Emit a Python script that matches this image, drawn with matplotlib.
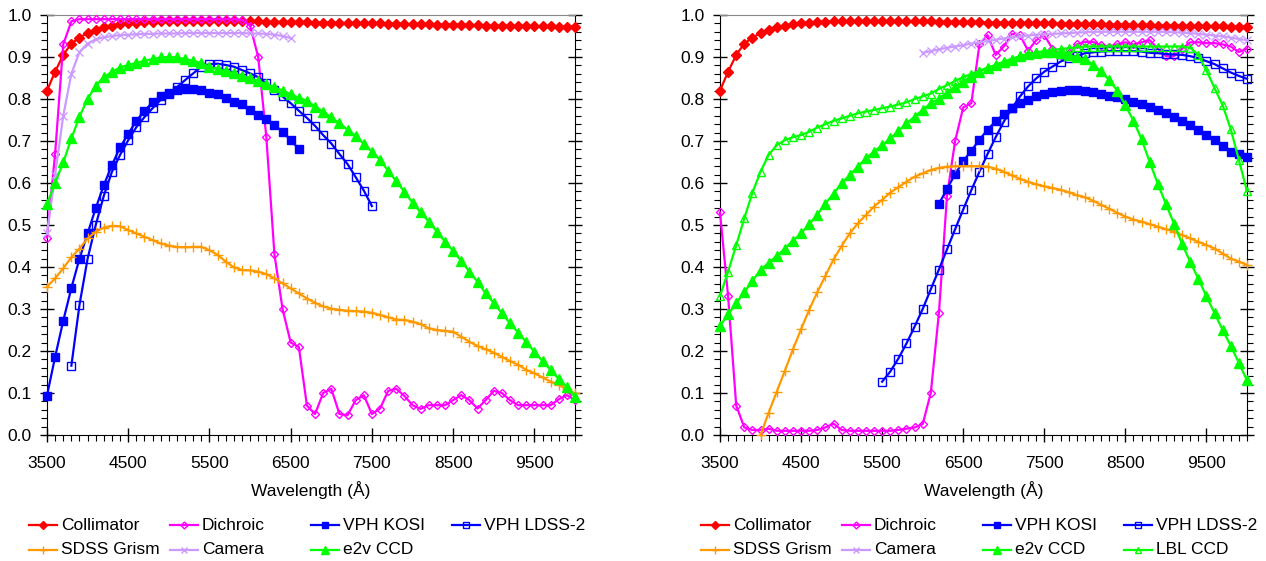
import numpy as np
import matplotlib
matplotlib.use("Agg")
import matplotlib.pyplot as plt
from matplotlib.lines import Line2D
from matplotlib.ticker import MultipleLocator

plt.rcParams['font.family'] = ['Liberation Sans', 'DejaVu Sans']

# every curve is sampled each 100 A, starting at the wavelength given
step = 100

# ---- shared ----
collimator_start = 3500
collimator = [0.820, 0.865, 0.905, 0.932, 0.946, 0.957, 0.965, 0.971, 0.975, 0.978,
              0.980, 0.982, 0.983, 0.984, 0.985, 0.985, 0.985, 0.986, 0.986, 0.986,
              0.986, 0.986, 0.986, 0.985, 0.985, 0.985, 0.985, 0.984, 0.984, 0.984,
              0.983, 0.983, 0.983, 0.982, 0.982, 0.982, 0.981, 0.981, 0.981, 0.980,
              0.980, 0.980, 0.979, 0.979, 0.979, 0.978, 0.978, 0.978, 0.977, 0.977,
              0.977, 0.976, 0.976, 0.976, 0.975, 0.975, 0.975, 0.974, 0.974, 0.974,
              0.973, 0.973, 0.973, 0.972, 0.972, 0.972]

# ---- left panel ----
dichroic_l_start = 3500
dichroic_l = [0.47, 0.67, 0.93, 0.985, 0.99, 0.99, 0.99, 0.99, 0.99, 0.99,
              0.99, 0.99, 0.99, 0.99, 0.99, 0.99, 0.99, 0.99, 0.99, 0.99,
              0.99, 0.99, 0.99, 0.99, 0.988, 0.975, 0.90, 0.71, 0.43, 0.30,
              0.22, 0.21, 0.07, 0.05, 0.10, 0.11, 0.05, 0.047, 0.083, 0.095,
              0.05, 0.063, 0.105, 0.11, 0.093, 0.071, 0.062, 0.071, 0.071, 0.071,
              0.083, 0.095, 0.083, 0.063, 0.083, 0.105, 0.10, 0.083, 0.071, 0.071,
              0.071, 0.071, 0.071, 0.085, 0.095, 0.083]

camera_l_start = 3500
camera_l = [0.48, 0.62, 0.76, 0.86, 0.912, 0.932, 0.942, 0.947, 0.95, 0.952,
            0.953, 0.954, 0.955, 0.955, 0.956, 0.956, 0.956, 0.957, 0.957, 0.957,
            0.957, 0.957, 0.957, 0.957, 0.957, 0.956, 0.956, 0.955, 0.953, 0.95,
            0.945]

kosi_l_start = 3500
kosi_l = [0.094, 0.186, 0.272, 0.35, 0.42, 0.48, 0.54, 0.595, 0.643, 0.685,
          0.717, 0.748, 0.772, 0.792, 0.806, 0.815, 0.821, 0.824, 0.823, 0.821,
          0.815, 0.811, 0.803, 0.794, 0.788, 0.774, 0.762, 0.752, 0.738, 0.722,
          0.702, 0.681]

ldss_l_start = 3800
ldss_l = [0.165, 0.31, 0.42, 0.50, 0.57, 0.627, 0.667, 0.702, 0.733, 0.757,
          0.778, 0.798, 0.813, 0.828, 0.845, 0.861, 0.877, 0.883, 0.884, 0.881,
          0.877, 0.869, 0.861, 0.852, 0.837, 0.821, 0.806, 0.79, 0.772, 0.755,
          0.736, 0.714, 0.694, 0.669, 0.645, 0.614, 0.582, 0.545]

sdss_l_start = 3500
sdss_l = [0.353, 0.373, 0.397, 0.423, 0.444, 0.468, 0.484, 0.494, 0.498, 0.497,
          0.488, 0.48, 0.472, 0.464, 0.456, 0.451, 0.448, 0.447, 0.448, 0.448,
          0.44, 0.429, 0.413, 0.399, 0.393, 0.392, 0.389, 0.383, 0.373, 0.361,
          0.349, 0.337, 0.325, 0.315, 0.306, 0.301, 0.298, 0.296, 0.295, 0.294,
          0.291, 0.286, 0.28, 0.275, 0.274, 0.27, 0.264, 0.254, 0.25, 0.248,
          0.246, 0.234, 0.222, 0.212, 0.204, 0.196, 0.186, 0.176, 0.167, 0.155,
          0.147, 0.137, 0.127, 0.119, 0.109, 0.099]

e2v_l_start = 3500
e2v_l = [0.55, 0.60, 0.649, 0.706, 0.758, 0.80, 0.832, 0.852, 0.865, 0.875,
         0.881, 0.886, 0.891, 0.895, 0.899, 0.90, 0.899, 0.895, 0.891, 0.885,
         0.877, 0.871, 0.867, 0.861, 0.855, 0.849, 0.843, 0.835, 0.828, 0.82,
         0.811, 0.803, 0.796, 0.782, 0.77, 0.756, 0.742, 0.727, 0.712, 0.693,
         0.675, 0.655, 0.629, 0.604, 0.579, 0.553, 0.53, 0.508, 0.484, 0.46,
         0.438, 0.414, 0.389, 0.365, 0.337, 0.314, 0.29, 0.266, 0.244, 0.221,
         0.198, 0.176, 0.155, 0.133, 0.114, 0.09]

# ---- right panel ----
dichroic_r_start = 3500
dichroic_r = [0.53, 0.33, 0.07, 0.018, 0.012, 0.012, 0.015, 0.01, 0.01, 0.01,
              0.01, 0.01, 0.012, 0.018, 0.027, 0.012, 0.01, 0.01, 0.01, 0.01,
              0.01, 0.01, 0.012, 0.015, 0.018, 0.026, 0.10, 0.29, 0.57, 0.70,
              0.78, 0.79, 0.93, 0.952, 0.905, 0.925, 0.955, 0.952, 0.915, 0.94,
              0.952, 0.92, 0.905, 0.91, 0.93, 0.936, 0.936, 0.928, 0.925, 0.93,
              0.935, 0.93, 0.935, 0.94, 0.92, 0.902, 0.902, 0.92, 0.935, 0.935,
              0.933, 0.933, 0.93, 0.925, 0.912, 0.92]

sdss_r_start = 4000
sdss_r = [0.0, 0.053, 0.103, 0.153, 0.204, 0.252, 0.298, 0.34, 0.379, 0.418,
          0.45, 0.48, 0.504, 0.524, 0.544, 0.56, 0.577, 0.59, 0.603, 0.615,
          0.623, 0.631, 0.636, 0.639, 0.64, 0.64, 0.64, 0.64, 0.639, 0.634,
          0.627, 0.618, 0.61, 0.603, 0.597, 0.592, 0.588, 0.584, 0.578, 0.571,
          0.566, 0.558, 0.548, 0.539, 0.529, 0.52, 0.513, 0.508, 0.502, 0.496,
          0.49, 0.484, 0.476, 0.468, 0.46, 0.452, 0.444, 0.432, 0.42, 0.413,
          0.405]

camera_r_start = 6000
camera_r = [0.91, 0.914, 0.918, 0.922, 0.925, 0.928, 0.932, 0.935, 0.938, 0.941,
            0.944, 0.947, 0.949, 0.951, 0.953, 0.954, 0.955, 0.956, 0.957, 0.958,
            0.959, 0.96, 0.96, 0.96, 0.96, 0.96, 0.96, 0.96, 0.96, 0.96,
            0.96, 0.959, 0.958, 0.957, 0.955, 0.953, 0.951, 0.949, 0.946, 0.943,
            0.94]

kosi_r_start = 6200
kosi_r = [0.55, 0.586, 0.621, 0.652, 0.677, 0.703, 0.727, 0.747, 0.764, 0.778,
          0.79, 0.798, 0.806, 0.811, 0.816, 0.82, 0.821, 0.821, 0.82, 0.816,
          0.812, 0.808, 0.804, 0.799, 0.794, 0.788, 0.782, 0.774, 0.766, 0.758,
          0.748, 0.738, 0.726, 0.714, 0.702, 0.688, 0.675, 0.67, 0.663]

ldss_r_start = 5500
ldss_r = [0.127, 0.151, 0.182, 0.218, 0.258, 0.30, 0.347, 0.394, 0.442, 0.49,
          0.537, 0.583, 0.627, 0.669, 0.709, 0.746, 0.778, 0.806, 0.83, 0.849,
          0.865, 0.877, 0.889, 0.897, 0.902, 0.909, 0.911, 0.913, 0.914, 0.914,
          0.914, 0.914, 0.913, 0.91, 0.909, 0.907, 0.906, 0.905, 0.902, 0.897,
          0.89, 0.883, 0.873, 0.863, 0.855, 0.848]

e2v_r_start = 3500
e2v_r = [0.26, 0.287, 0.314, 0.34, 0.367, 0.393, 0.41, 0.426, 0.444, 0.463,
         0.48, 0.502, 0.525, 0.551, 0.575, 0.599, 0.619, 0.639, 0.659, 0.675,
         0.69, 0.706, 0.724, 0.742, 0.758, 0.774, 0.79, 0.801, 0.815, 0.828,
         0.841, 0.852, 0.865, 0.873, 0.881, 0.887, 0.894, 0.902, 0.907, 0.91,
         0.912, 0.912, 0.91, 0.905, 0.899, 0.895, 0.882, 0.866, 0.845, 0.82,
         0.785, 0.748, 0.704, 0.65, 0.598, 0.55, 0.503, 0.455, 0.412, 0.372,
         0.33, 0.29, 0.25, 0.212, 0.172, 0.13]

lbl_r_start = 3500
lbl_r = [0.331, 0.389, 0.452, 0.516, 0.577, 0.627, 0.667, 0.69, 0.702, 0.709,
         0.714, 0.722, 0.732, 0.74, 0.748, 0.754, 0.76, 0.766, 0.77, 0.774,
         0.778, 0.782, 0.787, 0.792, 0.80, 0.806, 0.813, 0.824, 0.833, 0.843,
         0.852, 0.86, 0.867, 0.875, 0.881, 0.889, 0.896, 0.902, 0.907, 0.911,
         0.914, 0.917, 0.919, 0.921, 0.923, 0.925, 0.925, 0.925, 0.925, 0.925,
         0.925, 0.925, 0.925, 0.925, 0.925, 0.925, 0.925, 0.925, 0.922, 0.905,
         0.868, 0.826, 0.785, 0.728, 0.655, 0.58]

styles = {
    'Collimator': dict(color='#FF0000', marker='D', ms=4.6, mfc='#FF0000', mew=1),
    'Dichroic': dict(color='#FF00FF', marker='D', ms=4.4, mfc='none', mew=1),
    'VPH KOSI': dict(color='#0000FF', marker='s', ms=6.2, mfc='#0000FF', mew=1),
    'VPH LDSS-2': dict(color='#0000FF', marker='s', ms=6.2, mfc='none', mew=1),
    'SDSS Grism': dict(color='#FF9900', marker='+', ms=7, mew=1),
    'Camera': dict(color='#CC99FF', marker='x', ms=5.5, mew=1),
    'e2v CCD': dict(color='#00FF00', marker='^', ms=6.5, mfc='#00FF00', mew=1),
    'LBL CCD': dict(color='#00FF00', marker='^', ms=6, mfc='none', mew=1),
}

left_series = [('Collimator', collimator_start, collimator),
               ('Dichroic', dichroic_l_start, dichroic_l),
               ('VPH KOSI', kosi_l_start, kosi_l),
               ('VPH LDSS-2', ldss_l_start, ldss_l),
               ('SDSS Grism', sdss_l_start, sdss_l),
               ('Camera', camera_l_start, camera_l),
               ('e2v CCD', e2v_l_start, e2v_l)]

right_series = [('Collimator', collimator_start, collimator),
                ('Dichroic', dichroic_r_start, dichroic_r),
                ('VPH KOSI', kosi_r_start, kosi_r),
                ('VPH LDSS-2', ldss_r_start, ldss_r),
                ('SDSS Grism', sdss_r_start, sdss_r),
                ('Camera', camera_r_start, camera_r),
                ('e2v CCD', e2v_r_start, e2v_r),
                ('LBL CCD', lbl_r_start, lbl_r)]

W, H = 1266, 561
fig = plt.figure(figsize=(W / 100, H / 100), dpi=100)
FS = 12.5


def setup(ax):
    ax.set_xlim(3500, 10000)
    ax.set_ylim(0, 1)
    ax.set_xticks(np.arange(3500, 10000, 1000))
    ax.xaxis.set_minor_locator(MultipleLocator(100))
    ax.yaxis.set_major_locator(MultipleLocator(0.1))
    ax.yaxis.set_minor_locator(MultipleLocator(0.02))
    ax.yaxis.set_major_formatter('{x:.1f}')
    ax.tick_params(which='major', direction='inout', length=10, width=1,
                   labelsize=FS, left=True, right=True, pad=6)
    ax.tick_params(which='minor', direction='out', length=4, width=0.8,
                   left=True, right=True)
    ax.tick_params(axis='x', which='major', pad=10)
    ax.spines['top'].set_color('#888888')
    ax.set_xlabel('Wavelength (Å)', fontsize=FS, labelpad=7)


def draw(ax, series):
    for name, start, vals in series:
        wl = np.arange(start, start + step * len(vals), step)
        ax.plot(wl, vals, lw=1.6, clip_on=False, zorder=3, **styles[name])


def legend(x0, names):
    rows = [525, 550]
    for i, name in enumerate(names):
        col, row = i % 4, i // 4
        xs = x0 + col * 141
        y = 1 - rows[row] / H
        st = styles[name]
        fig.add_artist(Line2D([xs / W, (xs + 28) / W], [y, y], transform=fig.transFigure,
                              color=st['color'], lw=1.6))
        fig.add_artist(Line2D([(xs + 14) / W], [y], transform=fig.transFigure,
                              color=st['color'], marker=st['marker'], ms=st['ms'] * 0.8,
                              mfc=st.get('mfc', st['color']), mew=1, ls='none'))
        fig.text((xs + 32) / W, y, name, fontsize=FS, va='center', ha='left')


ax1 = fig.add_axes([47 / W, 1 - 435 / H, 528 / W, 420 / H])
ax2 = fig.add_axes([720 / W, 1 - 435 / H, 527 / W, 420 / H])
for ax, series in [(ax1, left_series), (ax2, right_series)]:
    setup(ax)
    draw(ax, series)

legend(29, ['Collimator', 'Dichroic', 'VPH KOSI', 'VPH LDSS-2',
            'SDSS Grism', 'Camera', 'e2v CCD'])
legend(701, ['Collimator', 'Dichroic', 'VPH KOSI', 'VPH LDSS-2',
             'SDSS Grism', 'Camera', 'e2v CCD', 'LBL CCD'])

fig.savefig('out.png', dpi=100)
